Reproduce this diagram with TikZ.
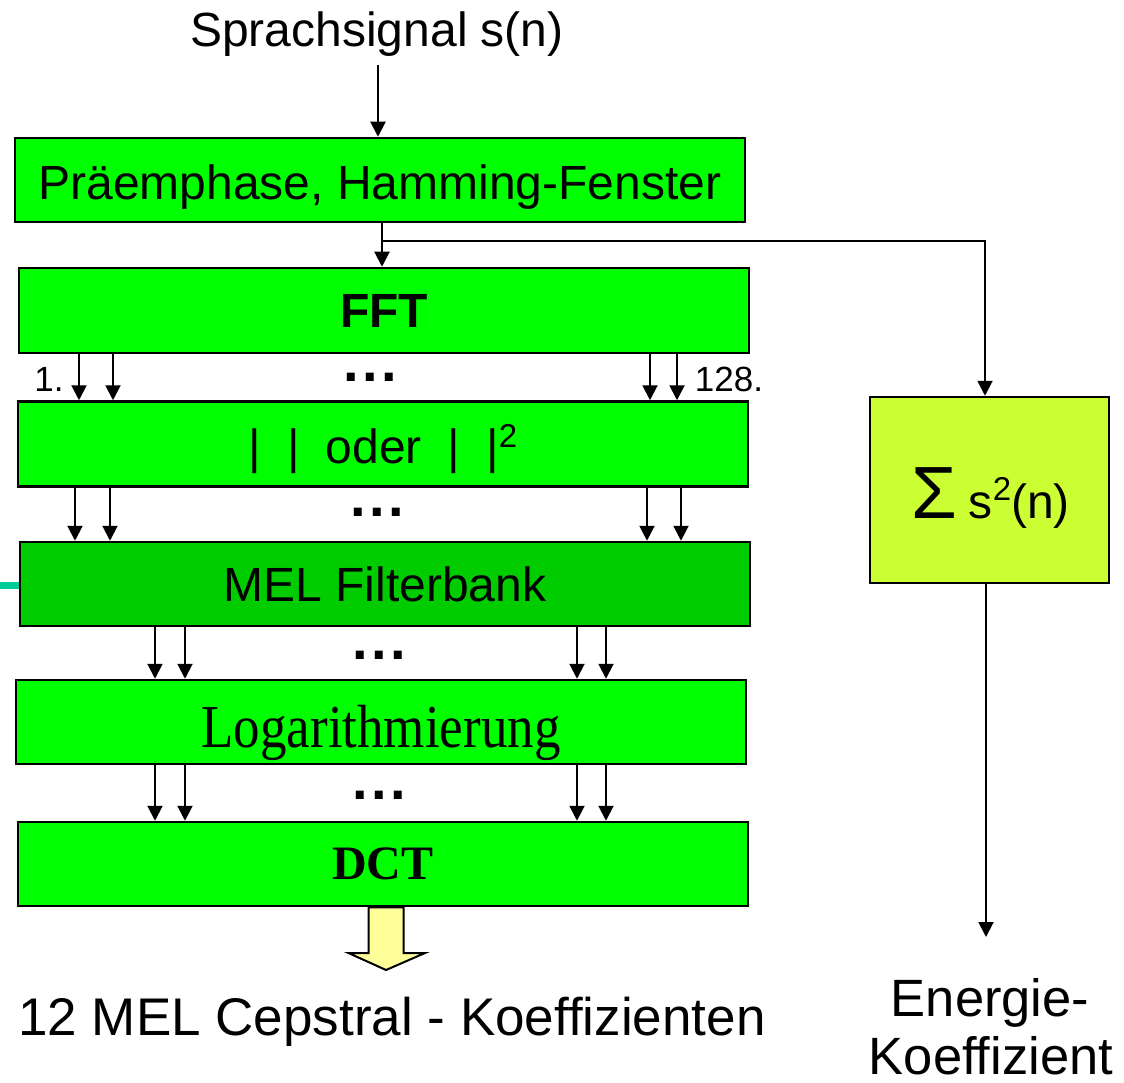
\documentclass[tikz,border=0pt]{standalone}
\usepackage{fontspec}
\newfontfamily\arial{Liberation Sans}
\newfontfamily\serifface{Liberation Serif}
\usetikzlibrary{arrows.meta}
\definecolor{stagegreen}{HTML}{00FF00}
\definecolor{melgreen}{HTML}{00CC00}
\definecolor{sumyellow}{HTML}{CCFF33}
\definecolor{outyellow}{HTML}{FFFF99}
\definecolor{tealline}{HTML}{00CC99}
\begin{document}
\begin{tikzpicture}[x=1pt,y=-1pt,
  stage/.style={draw=black, line width=2.5pt, fill=stagegreen,
    minimum width=730pt, minimum height=84pt, inner sep=0pt,
    font=\arial\fontsize{48}{56}\selectfont},
  arr/.style={line width=2pt, -{Triangle[width=15pt,length=15pt]}},
  dotrow/.style={font=\arial\bfseries\fontsize{56}{60}\selectfont,
    inner sep=0pt, anchor=base},
  label/.style={font=\arial\fontsize{48}{56}\selectfont, inner sep=0pt, anchor=base},
  idx/.style={font=\arial\fontsize{35}{40}\selectfont, inner sep=0pt, anchor=base},
]
\useasboundingbox (0,0) rectangle (1124,1083);
\fill[white] (0,0) rectangle (1124,1083);

% input signal
\node[label] (sig) at (377,47) {Sprachsignal s(n)};
\coordinate (sigout) at (378,65);

% processing chain
\node[stage, text height=40pt, text depth=0pt] (pre) at (380,180) {Präemphase, Hamming-Fenster};
\node[stage, minimum height=85pt] (fft) at (384,310.5) {\bfseries FFT};
\node[stage, minimum height=85pt, text height=38pt, text depth=0pt] (abs) at (383,444)
  {|\hspace{26pt}|\hspace{26pt}oder\hspace{26pt}|\hspace{26pt}|\raisebox{16pt}{\fontsize{33}{33}\selectfont 2}};
\node[stage, fill=melgreen] (mel) at (385,584) {MEL Filterbank};
\node[stage, font=\serifface\fontsize{53}{60}\selectfont, text height=50pt, text depth=0pt] (log) at (381,722)
  {\scalebox{1}[1.15]{Logarithmierung}};
\node[stage, font=\serifface\bfseries\fontsize{48}{56}\selectfont] (dct) at (383,864) {DCT};

% energy branch
\node[draw=black, line width=2.5pt, fill=sumyellow, minimum width=239pt,
  minimum height=186pt, inner sep=0pt] (sum) at (989.5,490) {};
\node[inner sep=0pt, anchor=base, font=\arial\fontsize{48}{56}\selectfont] (sumtext) at (990.5,518)
  {{\fontsize{74}{74}\selectfont Σ}\hspace{12pt}s\raisebox{18pt}{\fontsize{33}{33}\selectfont 2}(n)};

% teal stub on the filter bank
\coordinate (tealstart) at (0,585.5);
\draw[tealline, line width=7.5pt] (tealstart) -- (tealstart -| mel.west);

% connectors
\draw[arr] (sigout) -- (sigout |- pre.north);
\coordinate (split) at (382,241);
\draw[arr] (split |- pre.south) -- (split |- fft.north);
\draw[line width=2pt, -{Triangle[width=15pt,length=15pt]}]
  (split) -- (985,241) -- (985,0 |- sum.north);
\coordinate (energyout) at (986,937);
\draw[arr] (energyout |- sum.south) -- (energyout);

\foreach \xa in {79,113,650,677}
  \draw[arr] (\xa,0 |- fft.south) -- (\xa,0 |- abs.north);
\foreach \xa in {75,110,647,681}
  \draw[arr] (\xa,0 |- abs.south) -- (\xa,0 |- mel.north);
\foreach \xa in {155,185,577,606}
  \draw[arr] (\xa,0 |- mel.south) -- (\xa,0 |- log.north);
\foreach \xa in {155,185,577,606}
  \draw[arr] (\xa,0 |- log.south) -- (\xa,0 |- dct.north);

% channel indices and ellipses
\node[idx] (first) at (49,391) {1.};
\node[idx] (last) at (729,391) {128.};
\node[dotrow] (d1) at (370,381) {.\kern3.4pt.\kern3.4pt.};
\node[dotrow] (d2) at (377,516) {.\kern3.4pt.\kern3.4pt.};
\node[dotrow] (d3) at (379,659) {.\kern3.4pt.\kern3.4pt.};
\node[dotrow] (d4) at (379,799) {.\kern3.4pt.\kern3.4pt.};

% output block arrow
\draw[line width=2pt, fill=outyellow, line join=miter]
  (368.5,0 |- dct.south) -- (368.5,953) -- (348.5,953) -- (386,970)
  -- (425,953) -- (403.5,953) -- (403.5,0 |- dct.south) -- cycle;

% outputs
\node[font=\arial\fontsize{53}{60}\selectfont, inner sep=0pt, anchor=base] (mfcc) at (392,1035)
  {12 MEL Cepstral - Koeffizienten};
\node[font=\arial\fontsize{52.5}{60}\selectfont, inner sep=0pt, anchor=base] (en1) at (990,1016) {Energie-};
\node[font=\arial\fontsize{52.5}{60}\selectfont, inner sep=0pt, anchor=base] (en2) at (991,1074) {Koeffizient};
\end{tikzpicture}
\end{document}
